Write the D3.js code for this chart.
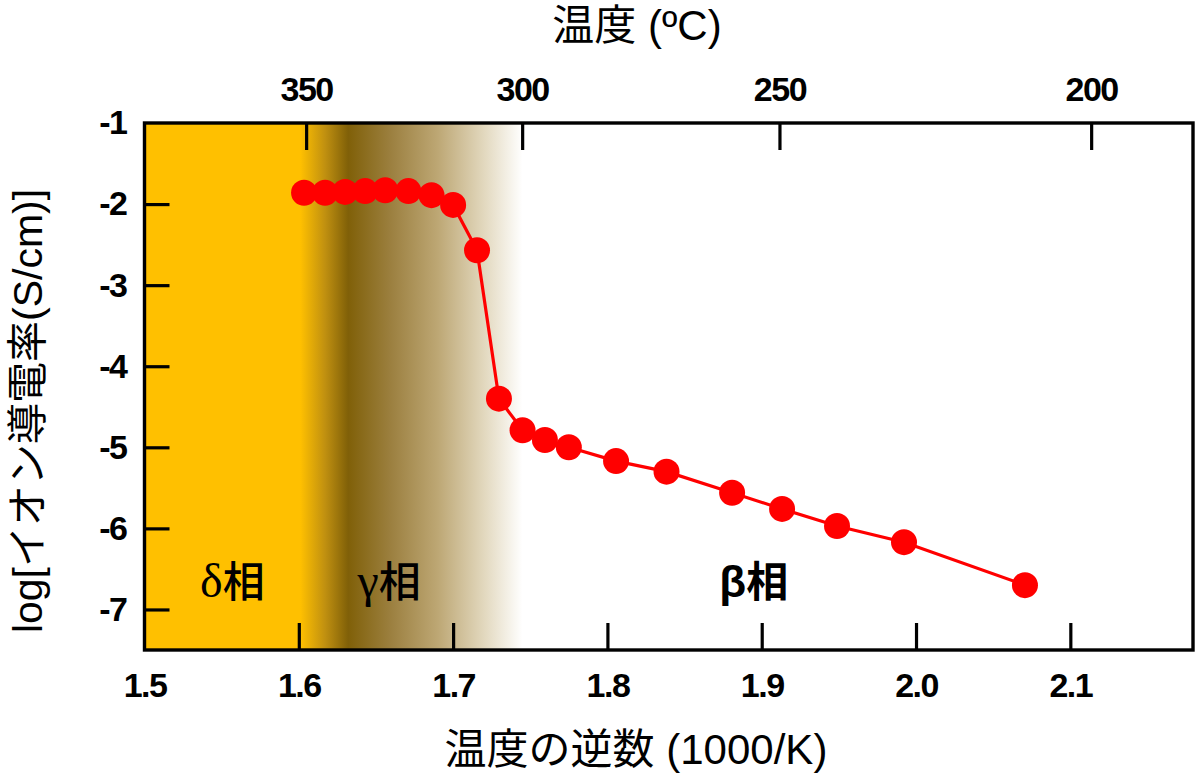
<!DOCTYPE html>
<html>
<head>
<meta charset="utf-8">
<script src="https://cdn.jsdelivr.net/npm/d3@7"></script>
<style>
  html, body { margin: 0; padding: 0; background: #fff; }
  svg { display: block; }
</style>
</head>
<body>
<svg id="chart" width="1200" height="778"></svg>
<script>
// ---- data ----
const invT = [1.6034, 1.617, 1.630, 1.643, 1.656, 1.671, 1.686, 1.700, 1.7155, 1.7297,
              1.745, 1.7595, 1.775, 1.8056, 1.8383, 1.8808, 1.9132, 1.9488, 1.9922, 2.0706];
const logSigma = [-1.86, -1.86, -1.85, -1.84, -1.83, -1.84, -1.89, -2.01, -2.57, -4.40,
                  -4.79, -4.91, -5.00, -5.17, -5.30, -5.56, -5.76, -5.97, -6.17, -6.70];
const xTicks = [1.5, 1.6, 1.7, 1.8, 1.9, 2.0, 2.1];
const yTicks = [-1, -2, -3, -4, -5, -6, -7];
const tempTicks = [350, 300, 250, 200];
const phaseLabels = [
  {greek: "δ", at: 1.536},
  {greek: "γ", at: 1.638},
  {greek: "β", at: 1.8725}
];

// ---- layout ----
const svg = d3.select("#chart");
const L = 144.5, R = 1193, T = 123, B = 650;
const x = d3.scaleLinear().domain([1.5, 2.1795]).range([L, R]);
const y = d3.scaleLinear().domain([-7.5, -1]).range([B, T]);
const tToX = t => 1000 / (t + 273.15);

// background gradient (phase regions)
const defs = svg.append("defs");
const g0 = x(1.5), g1 = x(1.745);
const off = v => (x(v) - g0) / (g1 - g0);
const grad = defs.append("linearGradient").attr("id", "phase")
  .attr("gradientUnits", "userSpaceOnUse")
  .attr("x1", g0).attr("x2", g1).attr("y1", 0).attr("y2", 0);
[[1.5, "#FFC000"], [1.601, "#FFC000"], [1.617, "#C09010"], [1.632, "#806008"],
 [1.66, "#9C8040"], [1.69, "#BDA774"], [1.72, "#E2D8BE"], [1.745, "#FFFFFF"]]
  .forEach(([v, c]) => grad.append("stop").attr("offset", off(v)).attr("stop-color", c));

svg.append("rect").attr("x", g0).attr("y", T).attr("width", g1 - g0).attr("height", B - T)
  .attr("fill", "url(#phase)");

// phase labels
const phaseG = svg.append("g");
phaseLabels.forEach(p => {
  const isBeta = p.greek === "β";
  const t = phaseG.append("text").attr("x", x(p.at)).attr("y", 597)
    .attr("font-size", 48).attr("fill", "#000");
  t.append("tspan").text(p.greek)
    .attr("font-family", isBeta ? "'Liberation Sans', Arial, sans-serif" : "'Liberation Serif', 'Times New Roman', serif")
    .attr("font-weight", isBeta ? "bold" : "normal")
    .attr("font-size", isBeta ? 44 : 48);
  t.append("tspan").text("相")
    .attr("font-family", "'Noto Sans CJK JP', sans-serif")
    .attr("font-weight", isBeta ? "bold" : "500")
    .attr("font-size", 42);
});

// line + points
const pts = invT.map((v, i) => [v, logSigma[i]]);
svg.append("path").datum(pts)
  .attr("fill", "none").attr("stroke", "#FF0000").attr("stroke-width", 3.2)
  .attr("d", d3.line().x(d => x(d[0])).y(d => y(d[1])));
svg.append("g").selectAll("circle").data(pts).join("circle")
  .attr("cx", d => x(d[0])).attr("cy", d => y(d[1])).attr("r", 13)
  .attr("fill", "#FF0000");

// axes
const tickFont = sel => sel.selectAll("text")
  .attr("font-family", "'Liberation Sans', Arial, sans-serif")
  .attr("font-weight", "bold").attr("font-size", 34).attr("letter-spacing", -1.5)
  .attr("fill", "#000");
const styleAxis = g => {
  g.select(".domain").remove();
  g.selectAll("line").attr("stroke", "#000").attr("stroke-width", 3.2);
  tickFont(g);
};

svg.append("g").attr("transform", `translate(0,${B})`)
  .call(d3.axisBottom(x).tickValues(xTicks).tickFormat(d => d.toFixed(1))
    .tickSize(-27).tickPadding(23))
  .call(styleAxis)
  .call(g => g.selectAll(".tick").filter(d => d === 1.5).select("line").remove());

svg.append("g").attr("transform", `translate(${L},0)`)
  .call(d3.axisLeft(y).tickValues(yTicks).tickFormat(d => String(d))
    .tickSize(-25).tickPadding(18))
  .call(styleAxis)
  .call(g => g.selectAll(".tick").filter(d => d === -1).select("line").remove());

svg.append("g").attr("transform", `translate(0,${T})`)
  .call(d3.axisTop(x).tickValues(tempTicks.map(tToX)).tickFormat((d, i) => String(tempTicks[i]))
    .tickSize(-27).tickPadding(22))
  .call(styleAxis);

// frame
svg.append("rect").attr("x", L).attr("y", T).attr("width", R - L).attr("height", B - T)
  .attr("fill", "none").attr("stroke", "#000").attr("stroke-width", 3.4);

// titles
const titleFont = "'Liberation Sans', 'Noto Sans CJK JP', sans-serif";
svg.append("text").attr("x", 637).attr("y", 40).attr("text-anchor", "middle")
  .attr("font-family", titleFont).attr("font-size", 42).attr("fill", "#000")
  .text("温度 (ºC)");
svg.append("text").attr("x", 636).attr("y", 764).attr("text-anchor", "middle")
  .attr("font-family", titleFont).attr("font-size", 42).attr("fill", "#000")
  .text("温度の逆数 (1000/K)");
svg.append("text").attr("transform", "translate(42,411) rotate(-90)")
  .attr("text-anchor", "middle")
  .attr("font-family", titleFont).attr("font-size", 41).attr("fill", "#000")
  .text("log[イオン導電率(S/cm)]");
</script>
</body>
</html>
